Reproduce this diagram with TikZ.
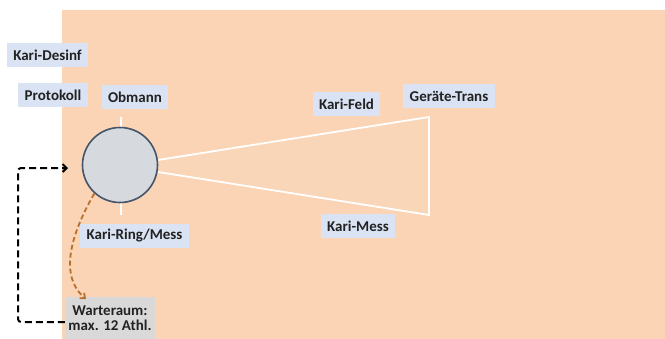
\documentclass[tikz,border=0pt]{standalone}
\usepackage{fontspec}
\setmainfont{Carlito}
\usetikzlibrary{arrows.meta}
\definecolor{bgorange}{HTML}{FAD4B4}
\definecolor{lblue}{HTML}{DAE3F3}
\definecolor{wgray}{HTML}{D9D9D9}
\definecolor{ringfill}{HTML}{D6D9DE}
\definecolor{ringline}{HTML}{44546A}
\definecolor{txt}{HTML}{222222}
\definecolor{brownarr}{HTML}{B8702F}
\tikzset{
  lbl/.style={fill=lblue, text=txt, font=\fontsize{15}{17}\selectfont\bfseries, inner xsep=6.5pt, inner ysep=3pt, minimum height=24pt},
  wbox/.style={fill=wgray, text=txt, font=\fontsize{15}{15.5}\selectfont\bfseries, align=center, minimum width=90pt, minimum height=42pt, inner sep=2pt},
  ringnode/.style={circle, draw=ringline, fill=ringfill, line width=1.6pt, minimum size=75pt, inner sep=0pt},
  whiteline/.style={draw=white, line width=1.8pt},
  blackarrow/.style={draw=black, line width=2pt, dash pattern=on 7pt off 4pt, -{Straight Barb[length=4pt,width=8pt]}},
  brownarrow/.style={draw=brownarr, line width=1.8pt, dash pattern=on 5pt off 3pt, -{Straight Barb[length=4pt,width=7pt]}}
}
\begin{document}
\begin{tikzpicture}[x=1pt,y=-1pt]
\useasboundingbox (0,0) rectangle (665,338);
\fill[white] (0,0) rectangle (665,338);
\fill[bgorange] (62,10) rectangle (665,345);
% trapezoid
\coordinate (tA) at (158,160);
\coordinate (tB) at (429,117);
\coordinate (tC) at (429,215);
\coordinate (tD) at (158,172);
\fill[white, opacity=0.06] (tA) -- (tB) -- (tC) -- (tD) -- cycle;
\draw[whiteline] (tA) -- (tB) -- (tC) -- (tD);
% ticks
\coordinate (t1) at (121,117);
\coordinate (t2) at (121,129);
\coordinate (t3) at (121,203);
\coordinate (t4) at (121,215);
\draw[whiteline] (t1) -- (t2);
\draw[whiteline] (t3) -- (t4);
% ring
\node[ringnode] (ring) at (120,165) {};
% labels
\node[lbl] (desinf) at (47.5,55) {Kari-Desinf};
\node[lbl] (prot) at (53,95) {Protokoll};
\node[lbl] (obm) at (135,97) {Obmann};
\node[lbl] (ringmess) at (134.5,236) {Kari-Ring/Mess};
\node[lbl] (feld) at (346.5,104) {Kari-Feld};
\node[lbl] (trans) at (449,96) {Geräte-Trans};
\node[lbl] (mess) at (358,226) {Kari-Mess};
\node[wbox] (wr) at (110,318) {Warteraum:\\max. 12 Athl.};
% arrows
\coordinate (bl) at (18,322);
\coordinate (arrtip) at (68,168);
\draw[blackarrow, rounded corners=3pt] (wr.west |- bl) -- (bl) |- (arrtip);
\coordinate (bend) at (86,299);
\draw[brownarrow] (ring.228) .. controls (72,232) and (58,275) .. (bend);
\end{tikzpicture}
\end{document}
